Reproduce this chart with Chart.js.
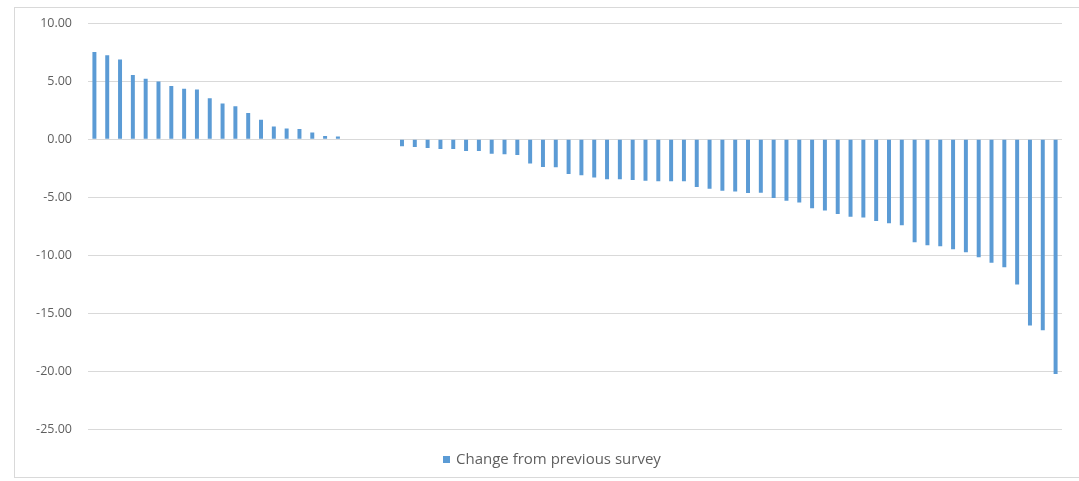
<!DOCTYPE html>
<html>
<head>
<meta charset="utf-8">
<script src="https://cdn.jsdelivr.net/npm/chart.js@4"></script>
<style>
  html, body { margin: 0; padding: 0; background: #fff; }
  #wrap { position: relative; width: 1079px; height: 481px; }
  #frame { position: absolute; left: 14px; top: 7px; width: 1070px; height: 471px;
           border: 1px solid #d9d9d9; border-right: none; box-sizing: border-box; }
  canvas { position: absolute; left: 0; top: 0; }
  #legend { position: absolute; left: 443px; top: 449px; height: 18px;
            font: 15px/18px "Open Sans", sans-serif; color: #5f5f5f; white-space: nowrap; }
  #legend .swatch { display: inline-block; width: 7px; height: 7px; margin-right: 6px;
                    vertical-align: 1px; }
</style>
</head>
<body>
<div id="wrap">
  <div id="frame"></div>
  <canvas id="c" width="1079" height="481"></canvas>
  <div id="legend"></div>
</div>
<script>
// Survey items, ordered by change; four empty slots separate gains from losses
const categories = Array.from({ length: 76 }, (_, i) => String(i + 1));

const gains = [7.55, 7.26, 6.9, 5.55, 5.23, 5.0, 4.6, 4.37, 4.3, 3.55,
               3.1, 2.85, 2.28, 1.7, 1.11, 0.94, 0.89, 0.59, 0.3, 0.25];
const gap = [null, null, null, null];
const losses = [-0.6, -0.67, -0.75, -0.84, -0.84, -1.0, -1.0, -1.25, -1.28, -1.36,
                -2.09, -2.38, -2.4, -2.99, -3.1, -3.3, -3.45, -3.45, -3.5, -3.57,
                -3.62, -3.62, -3.62, -4.12, -4.27, -4.43, -4.49, -4.63, -4.6, -5.06,
                -5.29, -5.46, -5.95, -6.15, -6.44, -6.67, -6.75, -7.04, -7.24, -7.41,
                -8.88, -9.14, -9.22, -9.48, -9.74, -10.17, -10.66, -11.03, -12.53, -16.06,
                -16.47, -20.26];
const changeFromPrevious = gains.concat(gap, losses);

const yTicks = [10, 5, 0, -5, -10, -15, -20, -25];
const seriesName = 'Change from previous survey';

const barBlue = '#5b9bd5';
const gridGrey = '#d9d9d9';
const textGrey = '#5f5f5f';

const chart = new Chart(document.getElementById('c'), {
  type: 'bar',
  data: {
    labels: categories,
    datasets: [{
      label: seriesName,
      data: changeFromPrevious,
      backgroundColor: barBlue,
      borderWidth: 0,
      barPercentage: 0.62,
      categoryPercentage: 0.5
    }]
  },
  options: {
    responsive: false,
    animation: false,
    layout: { padding: { left: 0, right: 17, top: 19, bottom: 0 } },
    plugins: {
      tooltip: { enabled: false },
      legend: { display: false }
    },
    scales: {
      x: {
        grid: { display: false },
        border: { display: false },
        ticks: { display: false },
        afterFit: (scale) => { scale.height = 52; }
      },
      y: {
        min: Math.min(...yTicks),
        max: Math.max(...yTicks),
        afterBuildTicks: (scale) => { scale.ticks = yTicks.map(v => ({ value: v })); },
        afterFit: (scale) => { scale.width = 88; },
        grid: { color: gridGrey, lineWidth: 1, drawTicks: false },
        border: { display: false },
        ticks: {
          padding: 16,
          color: textGrey,
          font: { family: '"Open Sans", sans-serif', size: 12.5 },
          callback: (v) => Number(v).toFixed(2)
        }
      }
    }
  }
});

// Legend built from the chart's own dataset entries
const legendEl = document.getElementById('legend');
chart.data.datasets.forEach((ds) => {
  const sw = document.createElement('span');
  sw.className = 'swatch';
  sw.style.background = ds.backgroundColor;
  legendEl.appendChild(sw);
  legendEl.appendChild(document.createTextNode(ds.label));
});
</script>
</body>
</html>
